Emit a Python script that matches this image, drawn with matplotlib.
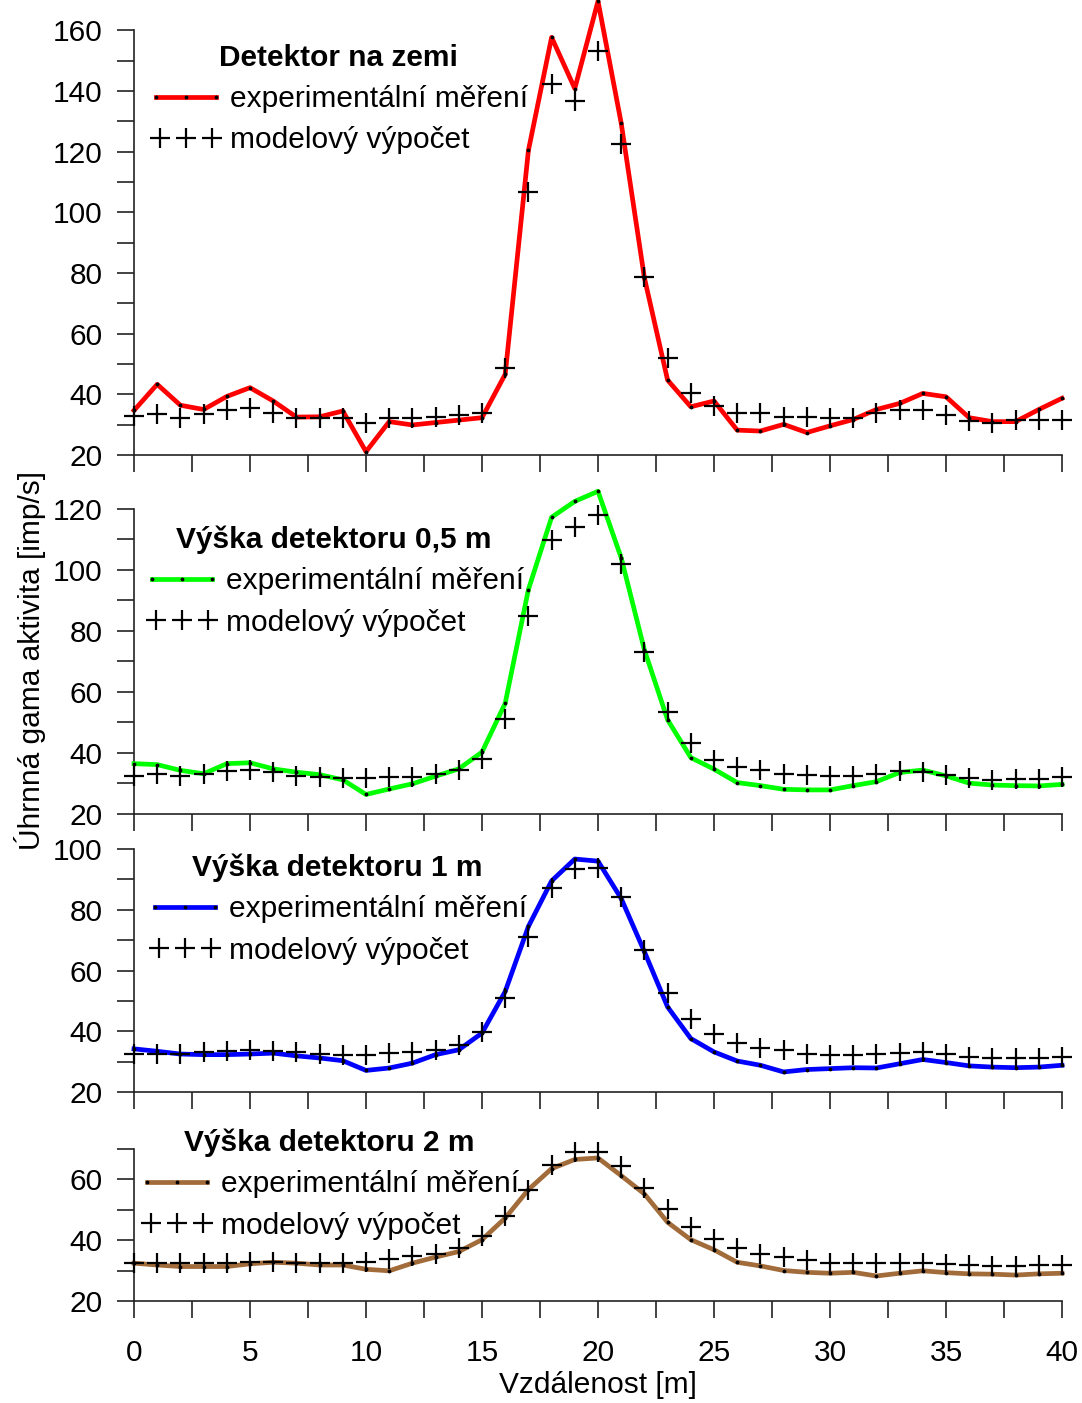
import numpy as np
import matplotlib
matplotlib.use("Agg")
import matplotlib.pyplot as plt
from matplotlib.lines import Line2D
from matplotlib.legend_handler import HandlerLine2D

plt.rcParams['font.family'] = ['Liberation Sans', 'DejaVu Sans']

# Vzdálenost [m]
x = np.arange(0, 41)

# Detektor na zemi
exp_0 = [34.7, 43.3, 36.4, 35.0, 39.3, 42.2, 37.8, 32.5, 32.6, 34.5,
         21.1, 31.0, 29.9, 30.7, 31.5, 32.3, 46.6, 120.4, 157.7, 140.8,
         169.6, 129.4, 78.4, 44.7, 35.9, 37.8, 28.2, 27.9, 30.1, 27.4,
         29.6, 31.7, 35.0, 37.0, 40.3, 39.2, 32.3, 31.0, 31.0, 35.0, 38.7]
mod_0 = [32.8, 33.4, 32.1, 33.4, 34.7, 35.6, 33.9, 32.1, 32.3, 32.3,
         30.7, 32.1, 32.3, 32.5, 33.1, 33.9, 48.8, 106.7, 142.3, 136.8,
         153.3, 122.6, 78.6, 52.1, 40.3, 36.1, 33.7, 33.9, 32.5, 32.5,
         32.3, 32.3, 33.7, 34.8, 34.7, 33.1, 31.2, 30.7, 31.7, 31.4, 31.4]

# Výška detektoru 0,5 m
exp_05 = [36.5, 36.2, 34.3, 33.2, 36.5, 36.8, 34.8, 33.7, 32.9, 31.2,
          26.4, 28.2, 29.9, 32.4, 34.8, 40.3, 56.3, 93.6, 117.3, 122.5,
          125.8, 104.0, 73.8, 50.9, 38.5, 34.7, 30.3, 29.3, 28.1, 27.9,
          27.9, 29.3, 30.6, 33.6, 34.4, 32.5, 30.1, 29.5, 29.3, 29.2, 29.7]
mod_05 = [32.6, 33.2, 32.6, 33.2, 34.1, 34.3, 33.7, 32.6, 32.1, 31.9,
          31.8, 32.1, 32.1, 33.2, 34.3, 37.9, 51.0, 84.8, 109.9, 114.1,
          118.1, 102.1, 73.0, 53.6, 43.2, 37.7, 35.5, 34.4, 33.1, 32.8,
          32.3, 32.3, 33.1, 34.1, 33.9, 32.8, 31.7, 31.2, 31.4, 31.4, 32.0]

# Výška detektoru 1 m
exp_1 = [34.2, 33.4, 32.5, 32.3, 32.3, 32.5, 32.8, 31.9, 31.2, 30.3,
         27.1, 27.9, 29.5, 32.3, 33.9, 39.4, 53.1, 74.5, 89.5, 96.7,
         96.0, 83.7, 66.2, 48.0, 37.6, 33.2, 30.2, 28.8, 26.6, 27.4,
         27.7, 28.0, 27.9, 29.3, 30.7, 29.7, 28.6, 28.2, 28.0, 28.2, 28.8]
mod_1 = [32.5, 32.5, 32.5, 33.2, 33.6, 33.9, 33.6, 33.2, 32.5, 32.3,
         32.3, 32.8, 33.2, 33.9, 35.6, 39.9, 51.1, 71.0, 87.0, 93.4,
         93.6, 84.3, 66.7, 52.7, 44.0, 39.2, 36.2, 34.5, 33.7, 32.6,
         32.3, 32.3, 32.6, 33.0, 33.2, 32.4, 31.5, 31.3, 31.3, 31.2, 31.5]

# Výška detektoru 2 m
exp_2 = [32.4, 31.8, 31.3, 31.3, 31.3, 32.2, 32.7, 32.4, 31.8, 31.8,
         30.4, 29.9, 32.4, 34.4, 36.2, 40.1, 47.2, 56.5, 63.4, 66.4,
         66.9, 61.1, 55.1, 45.8, 40.1, 36.8, 32.7, 31.5, 30.0, 29.4,
         29.1, 29.4, 28.2, 29.1, 29.9, 29.3, 28.9, 28.8, 28.5, 28.9, 29.1]
mod_2 = [32.4, 32.4, 32.4, 32.4, 32.6, 32.7, 32.7, 32.6, 32.4, 32.4,
         32.7, 33.7, 34.6, 35.5, 37.3, 41.2, 47.9, 56.3, 64.7, 68.9,
         68.9, 64.4, 57.0, 50.1, 44.2, 40.3, 37.3, 35.5, 34.4, 33.3,
         32.6, 32.4, 32.4, 32.4, 32.4, 32.2, 31.8, 31.6, 31.6, 31.8, 31.8]

titles = ['Detektor na zemi', 'Výška detektoru 0,5 m',
          'Výška detektoru 1 m', 'Výška detektoru 2 m']
exps = [exp_0, exp_05, exp_1, exp_2]
mods = [mod_0, mod_05, mod_1, mod_2]
colors = ['#ff0000', '#00ff00', '#0000ff', '#a26b3a']
ylims = [(20, 170), (20, 130), (20, 100), (20, 70)]
ytops = [160, 120, 100, 70]

FS = 21.5

W, H = 1082, 1403
fig = plt.figure(figsize=(W / 100, H / 100), dpi=100)

# pozice panelů v pixelech: (spodní okraj, výška)
panels = [(455, 455), (814, 335.5), (1092, 243), (1301, 152.5)]
legend_centers = [(338, 99), (334, 581), (337, 909), (329, 1184)]

left, right = 134, 1062
for i in range(4):
    bottom, height = panels[i]
    ax = fig.add_axes([left / W, 1 - bottom / H, (right - left) / W, height / H])

    ax.plot(x, exps[i], color=colors[i], lw=3.4, marker='.', ms=3.5,
            mfc='black', mec='black', clip_on=False, zorder=3)
    ax.plot(x, mods[i], ls='none', marker='+', ms=14, mew=1.6,
            color='black', clip_on=False, zorder=4)

    ax.set_xlim(0, 40)
    ax.set_ylim(*ylims[i])
    xt = np.arange(0, 40.1, 2.5)
    ax.set_xticks(xt)
    yt = list(range(20, ytops[i] + 1, 10))
    ax.set_yticks(yt)
    ax.set_yticklabels([str(v) if v % 20 == 0 else '' for v in yt])
    if i < 3:
        ax.set_xticklabels([])
    else:
        ax.set_xticklabels([str(int(v)) if v % 5 == 0 else '' for v in xt])

    for s in ['top', 'right']:
        ax.spines[s].set_visible(False)
    ax.spines['left'].set_bounds(20, ytops[i])
    for s in ['left', 'bottom']:
        ax.spines[s].set_linewidth(1.2)
        ax.spines[s].set_color('#222222')
    ax.tick_params(axis='both', direction='out', length=12.5, width=1.2,
                   color='#222222', labelsize=FS)
    ax.tick_params(axis='y', pad=10)
    ax.tick_params(axis='x', pad=15)
    ax.patch.set_visible(False)

    h_exp = Line2D([], [], color=colors[i], lw=3.4, marker='.', ms=3.5,
                   mfc='black', mec='black')
    h_mod = Line2D([], [], ls='none', marker='+', ms=14, mew=1.6, color='black')
    cx, cy = legend_centers[i]
    ax.legend([h_exp, h_mod], ['experimentální měření', 'modelový výpočet'],
              handler_map={h_mod: HandlerLine2D(marker_pad=0.43)},
              title=titles[i], title_fontproperties={'weight': 'bold', 'size': FS},
              fontsize=FS, frameon=False, numpoints=3, handlelength=2.58,
              handletextpad=0.2, labelspacing=0.45, loc='center',
              bbox_to_anchor=(cx / W, 1 - cy / H), bbox_transform=fig.transFigure)

fig.text(30 / W, 1 - 660 / H, 'Úhrnná gama aktivita [imp/s]', rotation=90,
         ha='center', va='center', fontsize=FS)
fig.text(598 / W, 1 - 1385 / H, 'Vzdálenost [m]', ha='center', va='center', fontsize=FS)

fig.savefig('out.png', dpi=100)
